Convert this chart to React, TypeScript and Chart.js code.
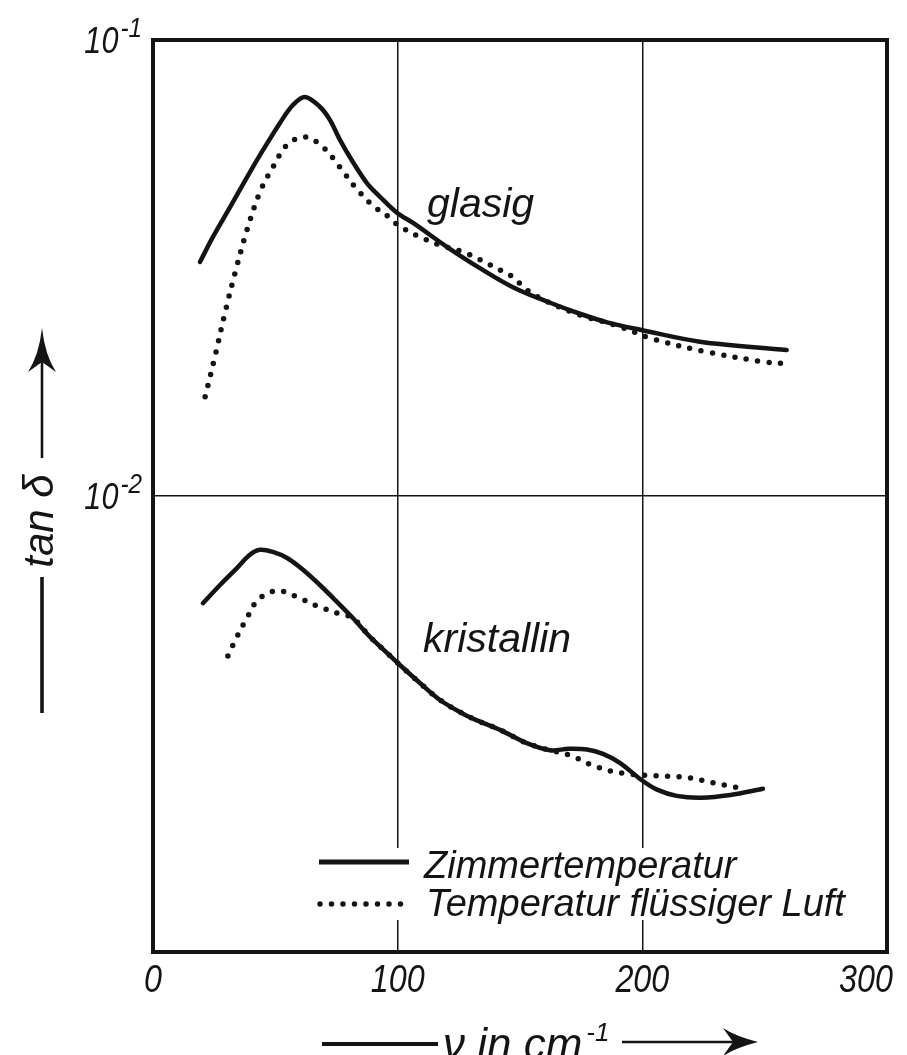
import React, { useEffect, useRef } from "react";
import { Chart, registerables } from "chart.js";

Chart.register(...registerables);

// ---- axis definitions ----
const xMin = 0;
const xMax = 300;
const xTickValues = [0, 100, 200, 300];
const xTickLabels = ["0", "100", "200", "300"];
const yMin = 0.001;
const yMax = 0.1;
const yTickValues = [0.001, 0.01, 0.1];
const yLabelValues = [0.1, 0.01];
const yLabelExponents = ["-1", "-2"];
const xGridValues = [100, 200];
const yGridValues = [0.01];

// ---- glasig, Zimmertemperatur (solid) ----
const glasZimmerX = [19.2, 24.5, 31.5, 38.4, 45, 51.9, 57.2, 62.1, 68.3, 72.3, 76.4, 81.7, 87.5, 92.8, 99.7, 106.3, 120.1, 133.6, 147.1, 161, 174.5, 186, 200, 223.5, 259];
const glasZimmerY = [0.0326, 0.037, 0.043, 0.05, 0.0574, 0.0658, 0.072, 0.075, 0.0713, 0.0668, 0.0604, 0.054, 0.0485, 0.0453, 0.0418, 0.0397, 0.0352, 0.0316, 0.0287, 0.0267, 0.0251, 0.024, 0.0231, 0.0218, 0.0209];

// ---- glasig, Temperatur fluessiger Luft (dotted) ----
const glasLuftX = [21.3, 25.3, 29.4, 33.5, 38.4, 43.7, 49, 54.8, 62.1, 69.5, 76.4, 82.6, 89.5, 96.9, 100, 109, 117.3, 126.7, 133.6, 141.8, 147.1, 152.8, 161, 175, 190, 204.3, 226.4, 249.3, 259];
const glasLuftY = [0.0165, 0.0202, 0.0252, 0.0308, 0.0383, 0.0464, 0.0526, 0.0589, 0.0613, 0.0582, 0.0526, 0.0476, 0.0435, 0.0407, 0.0393, 0.037, 0.0355, 0.0343, 0.033, 0.0313, 0.0302, 0.0283, 0.0267, 0.0249, 0.0236, 0.0221, 0.0207, 0.0197, 0.0195];

// ---- kristallin, Zimmertemperatur (solid) ----
const kristZimmerX = [20.4, 27.4, 34.3, 39.6, 43.7, 49, 54.8, 61.3, 68.2, 75.2, 81.7, 88.7, 95.6, 100.9, 109.1, 117.3, 126.7, 132.4, 141.8, 152.8, 162.2, 170, 177.4, 183.9, 190.8, 199.8, 206, 214, 224, 236, 249.3];
const kristZimmerY = [0.00582, 0.00638, 0.00695, 0.00743, 0.00762, 0.00754, 0.00731, 0.00689, 0.00638, 0.00586, 0.0054, 0.00491, 0.00453, 0.00426, 0.00389, 0.00357, 0.00333, 0.00322, 0.00307, 0.00287, 0.00277, 0.00279, 0.00278, 0.00272, 0.0026, 0.00238, 0.00227, 0.0022, 0.00218, 0.00221, 0.00228];

// ---- kristallin, Temperatur fluessiger Luft (dotted) ----
const kristLuftX = [30.6, 34.3, 38.4, 42.9, 50.7, 58.8, 67, 76.4, 81.7, 88.7, 95.6, 100.9, 109.1, 117.3, 126.7, 132.4, 141.8, 152.8, 162.2, 170.4, 178.6, 187.6, 194, 201, 210.5, 219.5, 228.9, 237.8, 242];
const kristLuftY = [0.00446, 0.00491, 0.0054, 0.00592, 0.0062, 0.00601, 0.00574, 0.00551, 0.0054, 0.00491, 0.00453, 0.00426, 0.00389, 0.00357, 0.00333, 0.00322, 0.00307, 0.00287, 0.00277, 0.0027, 0.00258, 0.00249, 0.00246, 0.00244, 0.00243, 0.00241, 0.00235, 0.0023, 0.00228];

// ---- texts ----
const seriesNames = ["Zimmertemperatur", "Temperatur flüssiger Luft"];
const curveLabels = ["glasig", "kristallin"];
const yTitle = "tan δ";
const xTitle = "ν in cm";
const xTitleExp = "-1";

const INK = "#141414";
const FONT = '"Liberation Sans", "DejaVu Sans", sans-serif';

function pts(xs: number[], ys: number[]) {
  return xs.map((x, i) => ({ x, y: ys[i] }));
}

function drawText(ctx: CanvasRenderingContext2D, str: string, x: number, y: number, size: number, align: CanvasTextAlign = "left", sx = 1) {
  ctx.save();
  ctx.font = `italic ${size}px ${FONT}`;
  ctx.textAlign = align;
  ctx.textBaseline = "alphabetic";
  ctx.fillStyle = INK;
  ctx.translate(x, y);
  ctx.scale(sx, 1);
  ctx.fillText(str, 0, 0);
  ctx.restore();
}

function textWidth(ctx: CanvasRenderingContext2D, str: string, size: number, sx = 1) {
  ctx.save();
  ctx.font = `italic ${size}px ${FONT}`;
  const w = ctx.measureText(str).width * sx;
  ctx.restore();
  return w;
}

function line(ctx: CanvasRenderingContext2D, x1: number, y1: number, x2: number, y2: number, w: number, dash: number[] = []) {
  ctx.save();
  ctx.strokeStyle = INK;
  ctx.lineWidth = w;
  ctx.lineCap = dash.length ? "round" : "butt";
  ctx.setLineDash(dash);
  ctx.beginPath();
  ctx.moveTo(x1, y1);
  ctx.lineTo(x2, y2);
  ctx.stroke();
  ctx.restore();
}

const DOT_DASH = [0, 11.5];

const decorPlugin = {
  id: "decor",
  beforeDraw(chart: any) {
    const ctx = chart.ctx as CanvasRenderingContext2D;
    ctx.save();
    ctx.fillStyle = "#ffffff";
    ctx.fillRect(0, 0, chart.width, chart.height);
    ctx.restore();
  },
  afterDraw(chart: any) {
    const ctx = chart.ctx as CanvasRenderingContext2D;
    const { left, right, top, bottom } = chart.chartArea;
    const xs = chart.scales.x;
    const ys = chart.scales.y;

    // legend box (covers grid lines)
    ctx.save();
    ctx.fillStyle = "#ffffff";
    ctx.fillRect(310, 848, 556, 72);
    ctx.restore();
    line(ctx, 319, 862, 409, 862, 5);
    line(ctx, 320, 904, 409, 904, 5.5, DOT_DASH);
    drawText(ctx, seriesNames[0], 424, 878, 38);
    drawText(ctx, seriesNames[1], 426, 916, 38);

    // curve labels
    drawText(ctx, curveLabels[0], 427, 217, 41);
    drawText(ctx, curveLabels[1], 423, 652, 41);

    // x tick labels
    xTickValues.forEach((v, i) => {
      const px = xs.getPixelForValue(v);
      const w = textWidth(ctx, xTickLabels[i], 38, 0.85);
      const cx = Math.min(px, 893 - w / 2);
      drawText(ctx, xTickLabels[i], cx, 992, 38, "center", 0.85);
    });

    // y tick labels 10^n
    yLabelValues.forEach((v, i) => {
      const py = ys.getPixelForValue(v);
      const exp = yLabelExponents[i];
      const ew = textWidth(ctx, exp, 27, 0.9);
      const rightEdge = 142;
      drawText(ctx, exp, rightEdge - ew, py - 3, 27, "left", 0.9);
      drawText(ctx, "10", rightEdge - ew - 2, py + 13, 36, "right", 0.85);
    });

    // y title with arrow
    ctx.save();
    ctx.fillStyle = INK;
    ctx.beginPath();
    ctx.moveTo(42, 328);
    ctx.quadraticCurveTo(45, 355, 56, 372);
    ctx.lineTo(42, 362);
    ctx.lineTo(28, 372);
    ctx.quadraticCurveTo(39, 355, 42, 328);
    ctx.closePath();
    ctx.fill();
    ctx.restore();
    line(ctx, 42, 362, 42, 458, 2.6);
    line(ctx, 42, 577, 42, 713, 3.6);
    ctx.save();
    ctx.translate(53, 521);
    ctx.rotate(-Math.PI / 2);
    drawText(ctx, yTitle, 0, 0, 42, "center");
    ctx.restore();

    // x title with arrow
    line(ctx, 322, 1044, 438, 1044, 4);
    drawText(ctx, xTitle, 443, 1059, 44);
    const tw = textWidth(ctx, xTitle, 44);
    drawText(ctx, xTitleExp, 443 + tw + 4, 1041, 26);
    line(ctx, 622, 1042, 735, 1042, 2.6);
    ctx.save();
    ctx.fillStyle = INK;
    ctx.beginPath();
    ctx.moveTo(758, 1042);
    ctx.quadraticCurveTo(735, 1036, 723, 1028);
    ctx.lineTo(733, 1042);
    ctx.lineTo(723, 1056);
    ctx.quadraticCurveTo(735, 1048, 758, 1042);
    ctx.closePath();
    ctx.fill();
    ctx.restore();

    // frame
    ctx.save();
    ctx.strokeStyle = INK;
    ctx.lineWidth = 4;
    ctx.strokeRect(left, top, right - left, bottom - top);
    ctx.restore();
  },
};

export default function App() {
  const ref = useRef<HTMLCanvasElement | null>(null);

  useEffect(() => {
    document.body.style.margin = "0";
    const canvas = ref.current;
    if (!canvas) return;
    const solid = { borderColor: INK, borderWidth: 4.5, pointRadius: 0, tension: 0.35, fill: false, borderCapStyle: "round" as const, borderJoinStyle: "round" as const };
    const dotted = { borderColor: INK, borderWidth: 5.5, pointRadius: 0, tension: 0.35, fill: false, borderDash: DOT_DASH, borderCapStyle: "round" as const };
    const chart = new Chart(canvas, {
      type: "line",
      data: {
        datasets: [
          { label: seriesNames[0] + " glasig", data: pts(glasZimmerX, glasZimmerY), ...solid },
          { label: seriesNames[1] + " glasig", data: pts(glasLuftX, glasLuftY), ...dotted },
          { label: seriesNames[0] + " kristallin", data: pts(kristZimmerX, kristZimmerY), ...solid },
          { label: seriesNames[1] + " kristallin", data: pts(kristLuftX, kristLuftY), ...dotted },
        ],
      },
      options: {
        animation: false,
        responsive: false,
        maintainAspectRatio: false,
        layout: { padding: { left: 153, top: 40, right: 20, bottom: 103 } },
        plugins: { legend: { display: false }, tooltip: { enabled: false } },
        scales: {
          x: {
            type: "linear",
            min: xMin,
            max: xMax,
            afterBuildTicks: (s: any) => { s.ticks = xTickValues.map((v) => ({ value: v })); },
            afterFit: (s: any) => { s.height = 0; },
            ticks: { display: false },
            grid: {
              color: (c: any) => (c.tick && xGridValues.includes(c.tick.value) ? INK : "rgba(0,0,0,0)"),
              lineWidth: 1.5,
              drawTicks: false,
            },
            border: { display: false },
          },
          y: {
            type: "logarithmic",
            min: yMin,
            max: yMax,
            afterBuildTicks: (s: any) => { s.ticks = yTickValues.map((v) => ({ value: v })); },
            afterFit: (s: any) => { s.width = 0; },
            ticks: { display: false },
            grid: {
              color: (c: any) => (c.tick && yGridValues.some((g) => Math.abs(g - c.tick.value) < 1e-9) ? INK : "rgba(0,0,0,0)"),
              lineWidth: 1.5,
              drawTicks: false,
            },
            border: { display: false },
          },
        },
      },
      plugins: [decorPlugin],
    } as any);
    return () => chart.destroy();
  }, []);

  return (
    <div style={{ width: 907, height: 1055, position: "relative" }}>
      <canvas ref={ref} width={907} height={1055} style={{ display: "block", width: 907, height: 1055 }} />
    </div>
  );
}
